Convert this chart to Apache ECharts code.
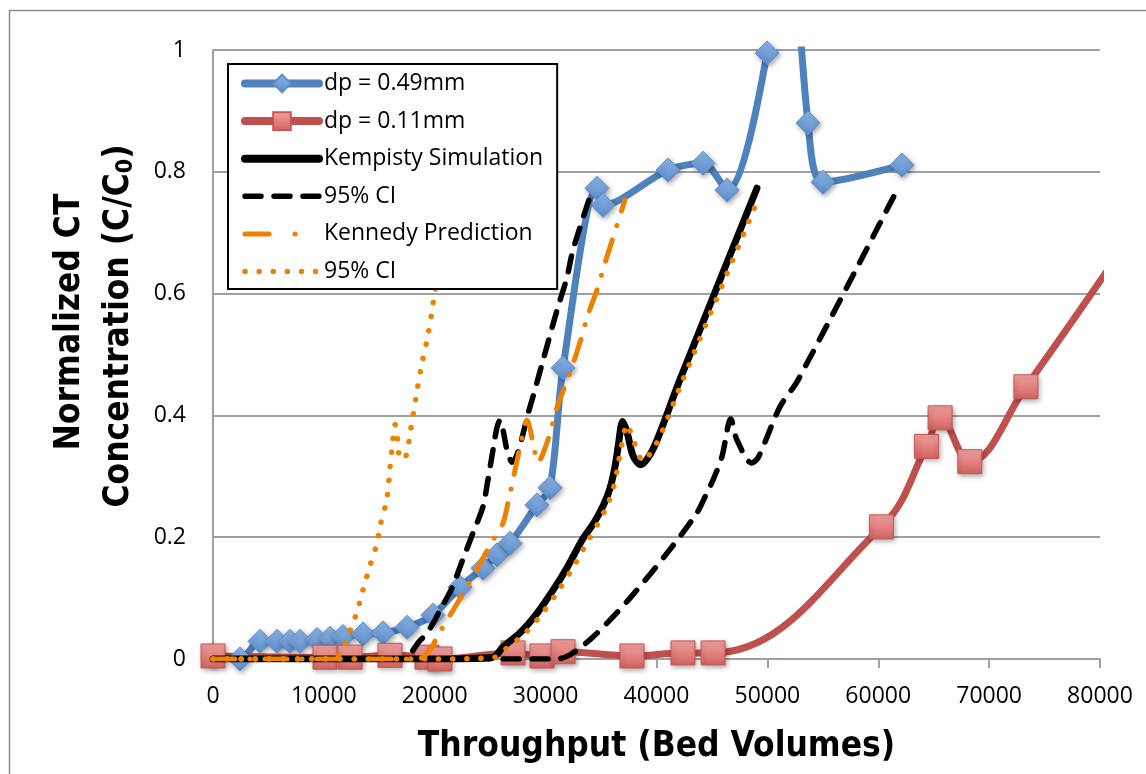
<!DOCTYPE html>
<html>
<head>
<meta charset="utf-8">
<script src="https://cdn.jsdelivr.net/npm/echarts@6/dist/echarts.min.js"></script>
<style>
html,body{margin:0;padding:0;background:#fff;}
#chart{width:1146px;height:774px;}
</style>
</head>
<body>
<div id="chart"></div>
<script>
// ---- data ----
const xTickValues = [0, 10000, 20000, 30000, 40000, 50000, 60000, 70000, 80000];
const yTickValues = [0, 0.2, 0.4, 0.6, 0.8, 1];

// dp = 0.49mm (measured)
const blueX = [0, 2430, 4240, 5770, 6940, 7850, 9380, 10550, 11720, 13530, 15330, 17500, 19840, 22280, 24350, 25610, 26790, 29220, 30400, 31570, 34630, 35180, 41040, 44200, 46360, 49970, 51600, 53670, 55020, 62140];
const blueY = [0.005, 0, 0.029, 0.029, 0.029, 0.029, 0.032, 0.034, 0.037, 0.041, 0.043, 0.052, 0.072, 0.118, 0.149, 0.171, 0.19, 0.253, 0.281, 0.478, 0.773, 0.745, 0.803, 0.814, 0.77, 0.995, 1.3, 0.88, 0.783, 0.811];

// dp = 0.11mm (measured)
const redX = [0, 10100, 12360, 15960, 19300, 20470, 27060, 29670, 31570, 37790, 42390, 45100, 60290, 64360, 65580, 68260, 73320, 81500];
const redY = [0.005, 0.003, 0.003, 0.006, 0.003, 0, 0.01, 0.005, 0.012, 0.005, 0.01, 0.01, 0.217, 0.349, 0.396, 0.324, 0.447, 0.66];

// Kempisty Simulation
const kempX = [0, 20000, 25250, 26160, 27690, 29220, 30670, 31930, 33280, 34400, 35200, 35800, 36250, 36550, 36950, 37350, 37900, 38600, 39500, 40300, 42100, 49060];
const kempY = [0, 0, 0.003, 0.02, 0.043, 0.075, 0.113, 0.15, 0.195, 0.225, 0.252, 0.28, 0.315, 0.35, 0.39, 0.372, 0.333, 0.319, 0.338, 0.371, 0.458, 0.773];

// Kempisty 95% CI (left / right bounds)
const kempLoX = [0, 17000, 18670, 19570, 20470, 21560, 22460, 23450, 24350, 24750, 25250, 25610, 25880, 26160, 26520, 26970, 28590, 29760, 31030, 31930, 32470, 34000];
const kempLoY = [0, 0, 0.03, 0.05, 0.08, 0.117, 0.16, 0.207, 0.25, 0.289, 0.343, 0.38, 0.392, 0.376, 0.343, 0.323, 0.414, 0.49, 0.573, 0.627, 0.672, 0.759];
const kempHiX = [0, 31000, 32200, 34270, 37610, 41220, 43650, 44550, 45100, 45900, 46700, 47250, 48580, 49150, 51130, 52760, 61780];
const kempHiY = [0, 0, 0.007, 0.036, 0.10, 0.18, 0.24, 0.273, 0.294, 0.332, 0.394, 0.36, 0.322, 0.33, 0.414, 0.458, 0.773];

// Kennedy Prediction
const kenX = [0, 18500, 19570, 20290, 21650, 22910, 23900, 25250, 26150, 26600, 27690, 28320, 28860, 29310, 30210, 31030, 31570, 32200, 33100, 33820, 34630, 35350, 37160];
const kenY = [0, 0, 0.015, 0.039, 0.08, 0.118, 0.151, 0.195, 0.223, 0.256, 0.348, 0.392, 0.356, 0.323, 0.36, 0.413, 0.44, 0.47, 0.52, 0.565, 0.606, 0.65, 0.754];

// Kennedy 95% CI (left / right bounds)
const kenLoX = [0, 11000, 11450, 12090, 12540, 12990, 13350, 13710, 14070, 14790, 15060, 15690, 15960, 16230, 16420, 16650, 16900, 17410, 17860, 18310, 18760, 19300, 19750, 19930, 20800, 21800];
const kenLoY = [0, 0, 0.01, 0.033, 0.056, 0.077, 0.102, 0.125, 0.148, 0.19, 0.217, 0.264, 0.313, 0.36, 0.385, 0.36, 0.328, 0.334, 0.38, 0.43, 0.478, 0.524, 0.571, 0.594, 0.68, 0.77];
const kenHiX = [0, 20000, 25500, 26500, 28000, 29500, 31000, 32300, 33700, 34700, 35500, 36100, 36500, 36850, 37350, 37900, 38800, 39700, 40500, 42300, 49150];
const kenHiY = [0, 0, 0.003, 0.018, 0.04, 0.07, 0.108, 0.145, 0.19, 0.222, 0.25, 0.28, 0.315, 0.35, 0.385, 0.36, 0.325, 0.345, 0.373, 0.455, 0.754];

const seriesNames = ['dp = 0.49mm', 'dp = 0.11mm', 'Kempisty Simulation', 'Kempisty 95% CI', 'Kennedy Prediction', 'Kennedy 95% CI'];

// ---- build ----
function zip(xs, ys) { return xs.map((x, i) => [x, ys[i]]); }

const ORANGE = '#EE8100';
const BLUE = '#4F81BD';
const RED = '#C0504D';
const markerShadow = { shadowBlur: 5, shadowColor: 'rgba(0,0,0,0.35)', shadowOffsetX: 1.5, shadowOffsetY: 2 };

const blueMarker = Object.assign({
  color: new echarts.graphic.LinearGradient(0, 0, 0, 1, [
    { offset: 0, color: '#8DB6E6' }, { offset: 1, color: '#5B8CCB' }]),
  borderColor: '#5F8FCB', borderWidth: 1
}, markerShadow);
const redMarker = Object.assign({
  color: new echarts.graphic.LinearGradient(0, 0, 0, 1, [
    { offset: 0, color: '#F3A3A1' }, { offset: 1, color: '#D2625F' }]),
  borderColor: '#C65754', borderWidth: 1
}, markerShadow);

const dashedBlack = { color: '#000', width: 5.5, type: [16, 13], cap: 'round', join: 'round' };
const dashDotOrange = { color: ORANGE, width: 5, type: [22, 15, 0.1, 15], cap: 'round', join: 'round' };
const dottedOrange = { color: ORANGE, width: 5.5, type: [0.1, 14], cap: 'round', join: 'round' };

const series = [
  { name: seriesNames[0], type: 'line', data: zip(blueX, blueY), smooth: 0.3,
    symbol: 'diamond', symbolSize: 24, showAllSymbol: true,
    lineStyle: { color: BLUE, width: 7 }, itemStyle: blueMarker, z: 3 },
  { name: seriesNames[1], type: 'line', data: zip(redX, redY), smooth: 0.4,
    symbol: 'rect', symbolSize: 24, showAllSymbol: true,
    lineStyle: { color: RED, width: 7 }, itemStyle: redMarker, z: 3 },
  { name: seriesNames[2], type: 'line', data: zip(kempX, kempY), smooth: 0.3, symbol: 'none',
    lineStyle: { color: '#000', width: 7, join: 'round', cap: 'round' }, itemStyle: { color: '#000' }, z: 4 },
  { name: seriesNames[3], type: 'line', data: zip(kempLoX, kempLoY), smooth: 0.3, symbol: 'none',
    lineStyle: dashedBlack, itemStyle: { color: '#000' }, z: 4 },
  { name: seriesNames[3], type: 'line', data: zip(kempHiX, kempHiY), smooth: 0.3, symbol: 'none',
    lineStyle: dashedBlack, itemStyle: { color: '#000' }, z: 4 },
  { name: seriesNames[4], type: 'line', data: zip(kenX, kenY), smooth: 0.3, symbol: 'none',
    lineStyle: dashDotOrange, itemStyle: { color: ORANGE }, z: 5 },
  { name: seriesNames[5], type: 'line', data: zip(kenLoX, kenLoY), smooth: 0.3, symbol: 'none',
    lineStyle: dottedOrange, itemStyle: { color: ORANGE }, z: 5 },
  { name: seriesNames[5], type: 'line', data: zip(kenHiX, kenHiY), smooth: 0.3, symbol: 'none',
    lineStyle: dottedOrange, itemStyle: { color: ORANGE }, z: 5 }
];
series.forEach(s => { s.clip = true; s.animation = false; });

const legendLine = [
  { width: 8, color: BLUE, cap: 'round' },
  { width: 8, color: RED, cap: 'round' },
  { width: 8, color: '#000', cap: 'round' },
  { width: 5.5, color: '#000', type: [16, 13], cap: 'round' },
  { width: 5, color: ORANGE, type: [24, 26, 0.1, 30], cap: 'round' },
  { width: 5.5, color: ORANGE, type: [0.1, 14], cap: 'round' }
];
const hiddenSymbol = { opacity: 0, borderWidth: 0, shadowBlur: 0 };
const legendItems = seriesNames.map((n, i) => {
  const item = { name: n, lineStyle: legendLine[i] };
  if (i >= 2) item.itemStyle = hiddenSymbol;
  return item;
});

const TITLE_FONT = '"Liberation Sans Narrow", "DejaVu Sans Condensed", "Arial Narrow", sans-serif';
const LABEL_FONT = '"Open Sans", "Noto Sans", sans-serif';

const chart = echarts.init(document.getElementById('chart'), null, { renderer: 'canvas' });
chart.setOption({
  animation: false,
  backgroundColor: '#fff',
  grid: { left: 213, right: 46, top: 50, bottom: 115, containLabel: false },
  xAxis: {
    type: 'value', min: xTickValues[0], max: xTickValues[xTickValues.length - 1],
    interval: xTickValues[1] - xTickValues[0],
    name: 'Throughput (Bed Volumes)', nameLocation: 'middle', nameGap: 70,
    nameTextStyle: { fontFamily: TITLE_FONT, fontWeight: 'bold', fontSize: 35, color: '#000' },
    axisLine: { show: true, lineStyle: { color: '#A0A0A0', width: 2 } },
    axisTick: { show: true, length: 9, lineStyle: { color: '#A0A0A0', width: 2 } },
    axisLabel: { margin: 26, fontFamily: LABEL_FONT, fontSize: 23, color: '#000',
      formatter: v => String(v) },
    splitLine: { show: false }
  },
  yAxis: {
    type: 'value', min: yTickValues[0], max: yTickValues[yTickValues.length - 1],
    interval: yTickValues[1] - yTickValues[0],
    axisLine: { show: true, lineStyle: { color: '#A0A0A0', width: 2 } },
    axisTick: { show: false },
    axisLabel: { margin: 27, fontFamily: LABEL_FONT, fontSize: 23, color: '#000',
      formatter: v => String(Math.round(v * 10) / 10) },
    splitLine: { show: true, lineStyle: { color: '#A0A0A0', width: 2 } }
  },
  legend: {
    orient: 'vertical', left: 228, top: 64,
    data: legendItems,
    itemWidth: 74, itemHeight: 22, itemGap: 14.6,
    padding: [8, 14, 6, 13],
    backgroundColor: '#fff', borderColor: '#000', borderWidth: 2, borderRadius: 0,
    textStyle: { fontFamily: LABEL_FONT, fontSize: 23, color: '#000' },
    formatter: n => (n.indexOf('95% CI') >= 0 ? '95% CI' : n),
    selectedMode: false,
    z: 10
  },
  graphic: [
    { type: 'rect', left: 7, top: 8, silent: true, z: -1,
      shape: { x: 0, y: 0, width: 1160, height: 790 },
      style: { fill: 'none', stroke: '#8C8C8C', lineWidth: 1.5 } },
    { type: 'text', x: 70, y: 322, rotation: Math.PI / 2, silent: true,
      style: { text: 'Normalized CT', fill: '#000', align: 'center', verticalAlign: 'middle',
        font: 'bold 35px ' + TITLE_FONT } },
    { type: 'text', x: 119, y: 326, rotation: Math.PI / 2, silent: true,
      style: { text: '{a|Concentration (C/C}{b|0}{a|)}', fill: '#000', align: 'center', verticalAlign: 'middle',
        rich: {
          a: { fontFamily: TITLE_FONT, fontWeight: 'bold', fontSize: 35, lineHeight: 40, fill: '#000' },
          b: { fontFamily: TITLE_FONT, fontWeight: 'bold', fontSize: 23, lineHeight: 40, fill: '#000', padding: [14, 0, 0, 0] }
        } } }
  ],
  series: series
});
</script>
</body>
</html>
